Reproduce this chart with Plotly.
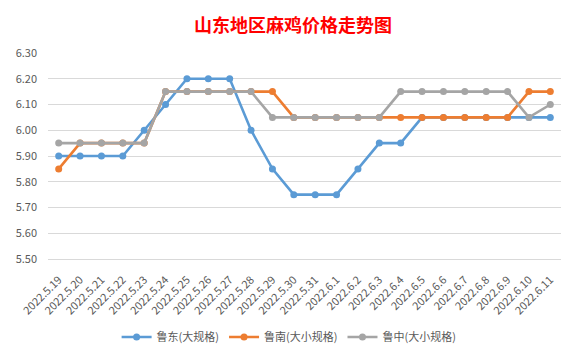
import plotly.graph_objects as go

dates = ["2022.5.19","2022.5.20","2022.5.21","2022.5.22","2022.5.23","2022.5.24","2022.5.25",
         "2022.5.26","2022.5.27","2022.5.28","2022.5.29","2022.5.30","2022.5.31","2022.6.1",
         "2022.6.2","2022.6.3","2022.6.4","2022.6.5","2022.6.6","2022.6.7","2022.6.8",
         "2022.6.9","2022.6.10","2022.6.11"]
ludong = [5.90,5.90,5.90,5.90,6.00,6.10,6.20,6.20,6.20,6.00,5.85,5.75,5.75,5.75,
          5.85,5.95,5.95,6.05,6.05,6.05,6.05,6.05,6.05,6.05]
lunan = [5.85,5.95,5.95,5.95,5.95,6.15,6.15,6.15,6.15,6.15,6.15,6.05,6.05,6.05,
         6.05,6.05,6.05,6.05,6.05,6.05,6.05,6.05,6.15,6.15]
luzhong = [5.95,5.95,5.95,5.95,5.95,6.15,6.15,6.15,6.15,6.15,6.05,6.05,6.05,6.05,
           6.05,6.05,6.15,6.15,6.15,6.15,6.15,6.15,6.05,6.10]
names = ["鲁东(大规格)", "鲁南(大小规格)", "鲁中(大小规格)"]
colors = ["#5B9BD5", "#ED7D31", "#A5A5A5"]
yticks = [5.5,5.6,5.7,5.8,5.9,6.0,6.1,6.2,6.3]

fig = go.Figure()
for vals, name, c in zip([ludong, lunan, luzhong], names, colors):
    fig.add_trace(go.Scatter(x=dates, y=vals, name=name, mode="lines+markers",
                             line=dict(color=c, width=2.6),
                             marker=dict(color=c, size=7)))

# page body adds an 8px margin, so the figure is sized/margined to compensate
fig.update_layout(
    width=570, height=352,
    paper_bgcolor="white", plot_bgcolor="white",
    margin=dict(l=40, r=17, t=45, b=101, autoexpand=False),
    title=dict(text="<b>山东地区麻鸡价格走势图</b>", x=0.5, xanchor="center", y=0.95, yanchor="middle",
               font=dict(family="Noto Sans CJK SC", size=18, color="#FF0000")),
    font=dict(family="Noto Sans CJK SC", color="#595959"),
    showlegend=True,
    legend=dict(orientation="h", x=0.47, xanchor="center", y=-0.379, yanchor="middle",
                font=dict(size=11, color="#595959"), itemwidth=30, tracegroupgap=0),
    xaxis=dict(type="category", range=[-0.5, 23.5], tickangle=-45,
               tickfont=dict(size=11, color="#595959"), ticklabelstandoff=9,
               showgrid=False, showline=True, linecolor="#D9D9D9", ticks="", automargin=False),
    yaxis=dict(range=[5.5, 6.3], tickvals=yticks, ticktext=[f"{v:.2f}" for v in yticks],
               showgrid=True, gridcolor="#D9D9D9", gridwidth=1, zeroline=False, automargin=False,
               tickfont=dict(size=11, color="#595959"), ticklabelstandoff=10),
)
fig.write_html("out.html")
